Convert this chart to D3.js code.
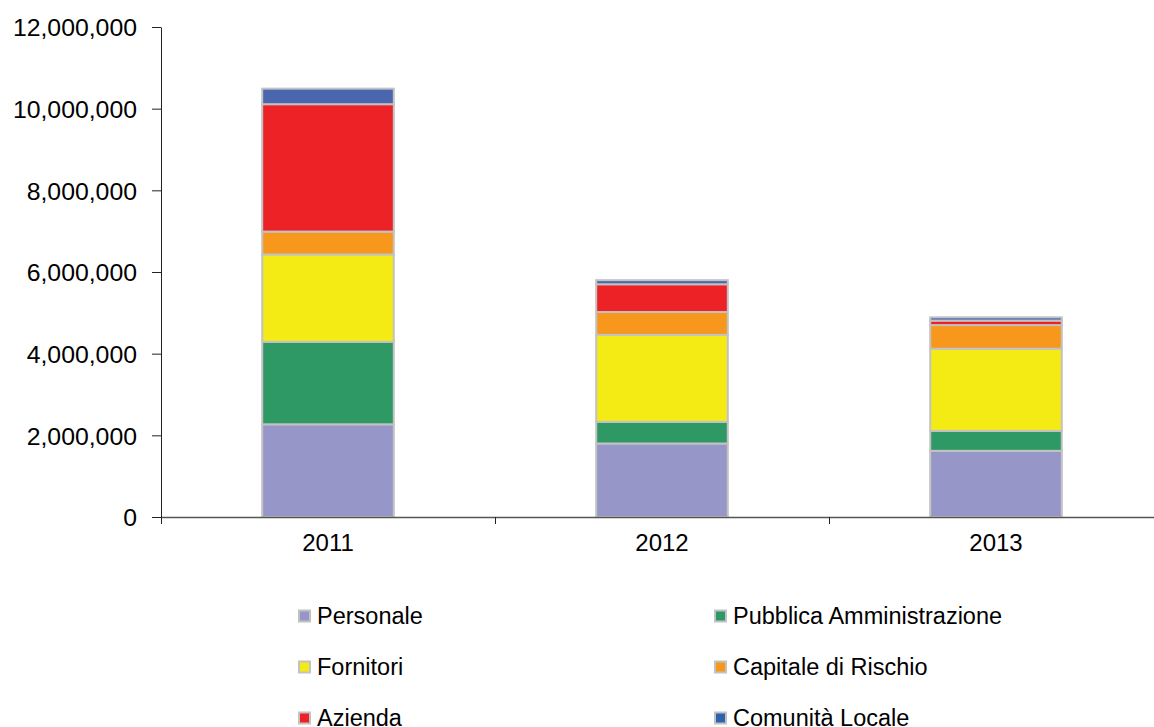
<!DOCTYPE html>
<html><head><meta charset="utf-8">
<script src="https://cdn.jsdelivr.net/npm/d3@7"></script>
<style>body{margin:0;background:#fff}svg{display:block}text{font-family:"Liberation Sans",Arial,Helvetica,sans-serif;fill:#000}</style>
</head><body><svg id="c" width="1154" height="727"></svg>
<script>
const years = ["2011","2012","2013"];
const seriesNames = ["Personale","Pubblica Amministrazione","Fornitori","Capitale di Rischio","Azienda","Comunità Locale"];
const personale = [2270000,1800000,1620000];
const pubblicaAmm = [2020000,530000,490000];
const fornitori = [2140000,2130000,2010000];
const capitale = [560000,560000,580000];
const azienda = [3120000,680000,110000];
const comunita = [380000,100000,80000];
const yTicks = [0,2000000,4000000,6000000,8000000,10000000,12000000];
const colors = ["#9696c8","#2f9966","#f4ea14","#f7981d","#ec2227","#4a66ae"];

const values = [personale,pubblicaAmm,fornitori,capitale,azienda,comunita];
const rows = years.map((y,i)=>{const r={year:y}; seriesNames.forEach((s,j)=>r[s]=values[j][i]); return r;});
const svg = d3.select("#c");
const x = d3.scaleBand().domain(years).range([161,1163]);
const y = d3.scaleLinear().domain([0,12000000]).range([517,27]);
const stack = d3.stack().keys(seriesNames)(rows);
const bw = x.bandwidth()*0.4;

svg.append("g").selectAll("g").data(stack).join("g")
  .attr("fill",(d,i)=>colors[i])
  .selectAll("rect").data(d=>d).join("rect")
  .attr("x",d=>x(d.data.year)+x.bandwidth()/2-bw/2+1)
  .attr("width",bw-2)
  .attr("y",d=>y(d[1]))
  .attr("height",d=>Math.max(0,y(d[0])-y(d[1])))
  .attr("stroke","#c2c2c2").attr("stroke-width",2);

// y axis
const ya = svg.append("g").attr("transform","translate(161,0)")
  .call(d3.axisLeft(y).tickValues(yTicks).tickFormat(d3.format(",")).tickSize(9).tickSizeOuter(0));
ya.select(".domain").attr("stroke","#222");
ya.selectAll(".tick line").attr("stroke","#222");
ya.selectAll(".tick text").attr("font-size","24.8px").attr("x",-24).attr("dy","0.36em").attr("fill","#111");

// x axis
const xa = svg.append("g").attr("transform","translate(0,517)")
  .call(d3.axisBottom(x).tickSize(0).tickSizeOuter(0));
xa.select(".domain").attr("stroke","#555").attr("stroke-width",1.5);
xa.selectAll(".tick text").attr("font-size","24px").attr("dy","1.3em").attr("fill","#111");
// category boundary ticks
svg.append("g").selectAll("line").data(years).join("line")
  .attr("x1",d=>x(d)+0.5).attr("x2",d=>x(d)+0.5)
  .attr("y1",517).attr("y2",524).attr("stroke","#222");

// legend
const legX = [298,714], legY = [616,667,718];
const lg = svg.append("g").selectAll("g").data(seriesNames).join("g")
  .attr("transform",(d,i)=>`translate(${legX[i%2]},${legY[Math.floor(i/2)]})`);
lg.append("rect").attr("x",1).attr("y",-5.5).attr("width",11).attr("height",11)
  .attr("fill",(d,i)=>i===5?"#2d62ad":colors[i]).attr("stroke","#c2c2c2").attr("stroke-width",2);
lg.append("text").attr("x",19).attr("y",0).attr("dy","0.35em").attr("font-size","23.5px").attr("fill","#111").text(d=>d);
</script></body></html>
